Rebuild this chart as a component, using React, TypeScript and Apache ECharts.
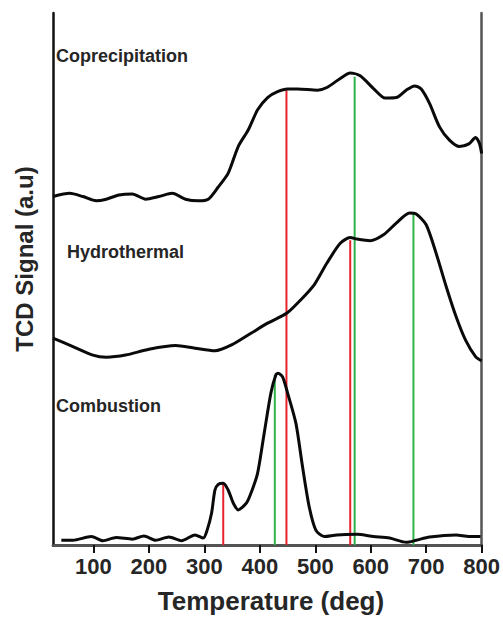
import React, { useEffect, useRef } from "react";
import * as echarts from "echarts";

// Temperature tick labels on the x axis
const tempTicks = [100, 200, 300, 400, 500, 600, 700, 800];

// Coprecipitation TPR trace (temperature, signal)
const coprecipTemp = [27, 57, 81, 105, 123, 146, 170, 194, 218, 242, 266, 289, 307, 325, 343, 361, 379, 396, 414, 432, 450, 468, 504, 521, 545, 563, 581, 605, 626, 646, 664, 679, 691, 706, 724, 742, 760, 777, 789, 796, 800];
const coprecipSignal = [65.5, 66.1, 65.5, 64.7, 65.0, 65.8, 66.0, 65.0, 65.5, 66.1, 65.0, 64.7, 65.0, 67.3, 69.9, 74.9, 78.0, 81.8, 84.1, 85.2, 85.7, 85.7, 85.5, 86.0, 87.7, 88.7, 88.2, 85.8, 84.0, 84.1, 85.5, 86.3, 85.7, 83.0, 78.6, 76.1, 74.9, 75.4, 76.6, 75.5, 73.6];

// Hydrothermal TPR trace
const hydroTemp = [27, 63, 99, 123, 158, 200, 248, 283, 319, 349, 384, 414, 449, 474, 498, 521, 545, 563, 575, 599, 623, 646, 670, 682, 700, 718, 736, 754, 771, 789, 800];
const hydroSignal = [38.9, 37.3, 35.7, 35.3, 35.7, 36.8, 37.5, 37.0, 36.5, 37.6, 39.8, 41.7, 43.6, 46.1, 48.9, 53.0, 56.7, 57.8, 57.5, 57.2, 58.3, 60.5, 62.4, 62.2, 60.2, 54.8, 48.6, 42.9, 38.5, 35.4, 34.6];

// Combustion TPR trace
const combTemp = [42, 63, 96, 117, 141, 170, 191, 212, 236, 259, 283, 298, 305, 313, 319, 325, 334, 343, 352, 361, 376, 386, 396, 408, 420, 429, 433, 441, 450, 465, 477, 489, 501, 516, 539, 575, 605, 634, 664, 682, 706, 754, 777, 798];
const combSignal = [0.9, 0.9, 1.6, 0.8, 1.4, 1.1, 1.7, 0.9, 1.5, 0.8, 1.9, 1.3, 2.8, 6.0, 10.3, 11.4, 11.6, 10.3, 7.9, 6.6, 7.9, 10.3, 13.5, 21.1, 28.6, 32.0, 32.3, 31.6, 28.6, 22.9, 14.7, 7.2, 2.8, 1.6, 1.9, 2.0, 1.6, 1.3, 0.5, 0.9, 1.5, 1.9, 1.6, 1.6];

// Peak markers: red and green drop lines (temperature, top of line)
const redLineTemp = [334, 448, 563];
const redLineTop = [11.7, 85.5, 57.3];
const greenLineTemp = [427, 571, 677];
const greenLineTop = [32.0, 88.0, 62.3];

const sampleNames = ["Coprecipitation", "Hydrothermal", "Combustion"];

const FONT = "'Liberation Sans', Arial, sans-serif";

function pairs(xs: number[], ys: number[]) {
  return xs.map((x, i) => [x, ys[i]]);
}

export default function App() {
  const ref = useRef<HTMLDivElement>(null);

  useEffect(() => {
    if (!ref.current) return;
    const chart = echarts.init(ref.current, null, { renderer: "svg" });

    const dropLine = (t: number, top: number, color: string) => ({
      type: "line",
      data: [
        [t, 0],
        [t, top],
      ],
      symbol: "none",
      silent: true,
      lineStyle: { color, width: 2 },
      z: 2,
    });

    const trace = (xs: number[], ys: number[]) => ({
      type: "line",
      data: pairs(xs, ys),
      symbol: "none",
      smooth: 0.25,
      silent: true,
      lineStyle: { color: "#0a0a0a", width: 3 },
      z: 3,
    });

    const option: any = {
      animation: false,
      backgroundColor: "#ffffff",
      grid: { left: 53, right: 17, top: 13, bottom: 72 },
      xAxis: [
        {
          type: "value",
          min: 27,
          max: 800,
          position: "bottom",
          axisLine: { show: true, lineStyle: { color: "#111", width: 2.5 } },
          axisTick: {
            show: true,
            customValues: tempTicks,
            length: 8,
            inside: false,
            lineStyle: { color: "#111", width: 2 },
          },
          axisLabel: {
            customValues: tempTicks,
            fontSize: 22,
            fontWeight: "bold",
            fontFamily: FONT,
            color: "#262626",
            margin: 10,
          },
          splitLine: { show: false },
        },
        {
          type: "value",
          min: 27,
          max: 800,
          position: "top",
          axisLine: { show: true, lineStyle: { color: "#555", width: 2.5 } },
          axisTick: { show: false },
          axisLabel: { show: false },
          splitLine: { show: false },
        },
      ],
      yAxis: [
        {
          type: "value",
          min: 0,
          max: 100,
          position: "left",
          axisLine: { show: true, lineStyle: { color: "#111", width: 2.5 } },
          axisTick: { show: false },
          axisLabel: { show: false },
          splitLine: { show: false },
        },
        {
          type: "value",
          min: 0,
          max: 100,
          position: "right",
          axisLine: { show: true, lineStyle: { color: "#555", width: 2.5 } },
          axisTick: { show: false },
          axisLabel: { show: false },
          splitLine: { show: false },
        },
      ],
      series: [
        ...redLineTemp.map((t, i) => dropLine(t, redLineTop[i], "#e8212b")),
        ...greenLineTemp.map((t, i) => dropLine(t, greenLineTop[i], "#2db34a")),
        trace(coprecipTemp, coprecipSignal),
        trace(hydroTemp, hydroSignal),
        trace(combTemp, combSignal),
      ],
      graphic: [
        {
          type: "text",
          left: 56,
          top: 47,
          style: { text: sampleNames[0], font: `bold 18px ${FONT}`, fill: "#262626" },
        },
        {
          type: "text",
          left: 67,
          top: 243,
          style: { text: sampleNames[1], font: `bold 18px ${FONT}`, fill: "#262626" },
        },
        {
          type: "text",
          left: 56,
          top: 397,
          style: { text: sampleNames[2], font: `bold 18px ${FONT}`, fill: "#262626" },
        },
        {
          type: "text",
          x: 271,
          y: 601,
          style: {
            text: "Temperature (deg)",
            font: `bold 26px ${FONT}`,
            fill: "#262626",
            align: "center",
            verticalAlign: "middle",
          },
        },
        {
          type: "text",
          x: 24,
          y: 259,
          rotation: Math.PI / 2,
          style: {
            text: "TCD Signal (a.u)",
            font: `bold 24px ${FONT}`,
            fill: "#262626",
            align: "center",
            verticalAlign: "middle",
          },
        },
      ],
    };

    chart.setOption(option);
    return () => chart.dispose();
  }, []);

  return (
    <div
      ref={ref}
      style={{ position: "fixed", left: 0, top: 0, width: 503, height: 617 }}
    />
  );
}
